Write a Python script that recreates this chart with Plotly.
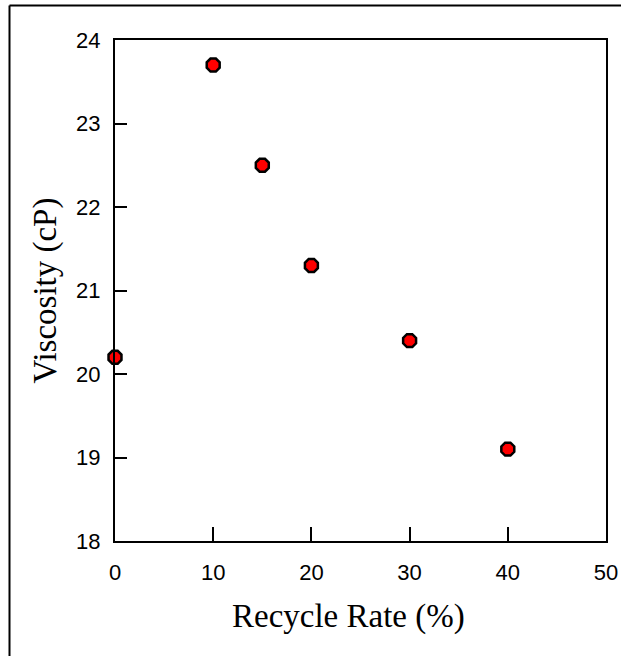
import plotly.graph_objects as go

# Recycle rate (%) vs measured viscosity (cP)
recycle_rate = [0, 10, 15, 20, 30, 40]
viscosity = [20.2, 23.7, 22.5, 21.3, 20.4, 19.1]

x_ticks = [0, 10, 20, 30, 40, 50]
y_ticks = [18, 19, 20, 21, 22, 23, 24]

W, H = 621, 656
L, R, T, B = 115, 15, 40, 115
pw, ph = W - L - R, H - T - B

fig = go.Figure(
    go.Scatter(
        x=recycle_rate,
        y=viscosity,
        mode="markers",
        marker=dict(
            symbol="octagon",
            size=14,
            color="#ff0000",
            line=dict(color="black", width=2.5),
        ),
        cliponaxis=False,
    )
)

axis_common = dict(
    showgrid=False,
    zeroline=False,
    showline=True,
    linecolor="black",
    linewidth=2,
    mirror=True,
    ticks="inside",
    tickwidth=2,
    tickcolor="black",
    automargin=False,
    tickfont=dict(family="Liberation Sans, Arial", size=22, color="black"),
)

fig.update_xaxes(
    range=[0, 50],
    tickvals=x_ticks,
    ticklen=14,
    ticklabelstandoff=11,
    **axis_common,
)
fig.update_yaxes(
    range=[18, 24],
    tickvals=y_ticks,
    ticklen=12,
    ticklabelstandoff=8,
    title=dict(
        text="Viscosity (cP)",
        font=dict(family="Liberation Serif, Times New Roman", size=33, color="black"),
        standoff=10,
    ),
    **axis_common,
)

# X axis title, placed slightly left of the plot centre
fig.add_annotation(
    text="Recycle Rate (%)",
    xref="paper", yref="paper",
    x=(348.5 - L) / pw, y=(H - B - 596) / ph,
    xanchor="center", yanchor="top",
    showarrow=False,
    font=dict(family="Liberation Serif, Times New Roman", size=33, color="black"),
)

# Outer frame: top and left edges
x_left = (9.5 - L) / pw
y_top = (H - B - 5.5) / ph
fig.add_shape(type="line", xref="paper", yref="paper",
              x0=x_left, x1=2, y0=y_top, y1=y_top,
              line=dict(color="black", width=2))
fig.add_shape(type="line", xref="paper", yref="paper",
              x0=x_left, x1=x_left, y0=-2, y1=y_top,
              line=dict(color="black", width=2))

fig.update_layout(
    width=W,
    height=H,
    margin=dict(l=L, r=R, t=T, b=B),
    plot_bgcolor="white",
    paper_bgcolor="white",
    showlegend=False,
)

fig.write_html("out.html")
